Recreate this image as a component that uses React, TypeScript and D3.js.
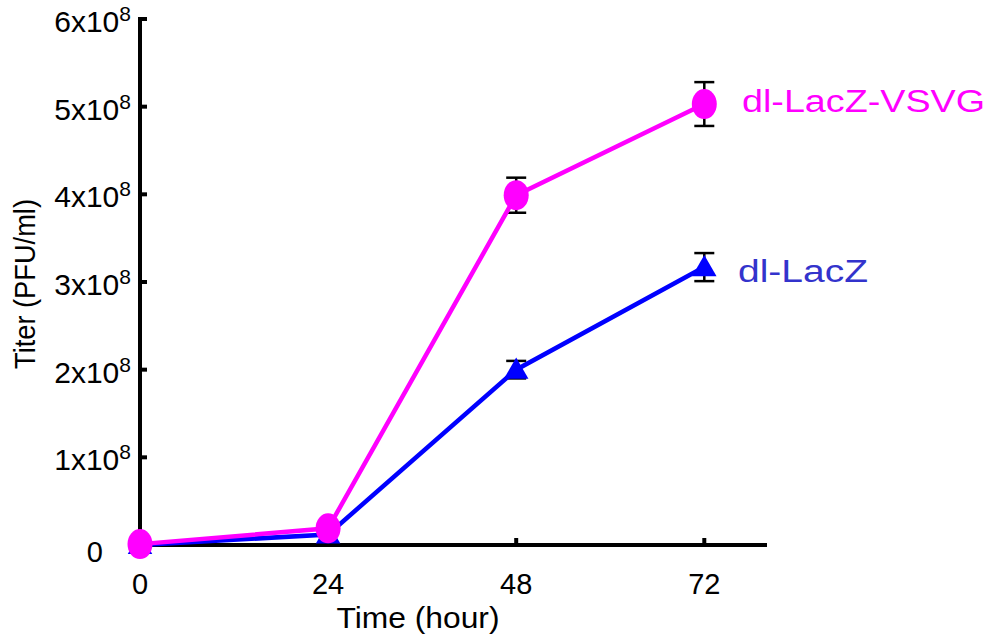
import * as d3 from "d3";

const hours = [0, 24, 48, 72];
const vsvgTiter = [0.01e8, 0.19e8, 3.99e8, 5.03e8];
const vsvgErr = [0, 0, 0.2e8, 0.25e8];
const lacZTiter = [0, 0.12e8, 2.0e8, 3.17e8];
const lacZErr = [0, 0, 0.1e8, 0.16e8];
const yTicks = [0, 1, 2, 3, 4, 5, 6];
const xTicks = [0, 24, 48, 72];

const W = 992;
const H = 641;
const font = "'Liberation Sans', Arial, sans-serif";

const x = d3.scaleLinear().domain([0, 80]).range([140, 767]);
const y = d3.scaleLinear().domain([0, 6e8]).range([545, 19]);

const line = d3
  .line<number>()
  .x((_, i) => x(hours[i]))
  .y((d) => y(d));

const tri = d3.symbol().type(d3.symbolTriangle).size(260);

const ErrorBars = ({ vals, errs }: { vals: number[]; errs: number[] }) => (
  <g stroke="#000" strokeWidth={2.5}>
    {vals.map((v, i) =>
      errs[i] > 0 ? (
        <g key={i}>
          <line x1={x(hours[i])} x2={x(hours[i])} y1={y(v + errs[i])} y2={y(v - errs[i])} />
          <line x1={x(hours[i]) - 10} x2={x(hours[i]) + 10} y1={y(v + errs[i])} y2={y(v + errs[i])} />
          <line x1={x(hours[i]) - 10} x2={x(hours[i]) + 10} y1={y(v - errs[i])} y2={y(v - errs[i])} />
        </g>
      ) : null
    )}
  </g>
);

export default function App() {
  return (
    <svg
      width={W}
      height={H}
      viewBox={`0 0 ${W} ${H}`}
      style={{ position: "absolute", left: 0, top: 0, background: "#fff" }}
      fontFamily={font}
    >
      {/* axes */}
      <g stroke="#000" strokeWidth={4}>
        <line x1={x(0)} x2={x(0)} y1={y(6e8) - 2} y2={y(0) + 2} />
        <line x1={x(0) - 2} x2={x(80)} y1={y(0)} y2={y(0)} />
        {yTicks.map((t) => (
          <line key={t} x1={x(0)} x2={x(0) + 7} y1={y(t * 1e8)} y2={y(t * 1e8)} />
        ))}
        {xTicks.map((t) => (
          <line key={t} x1={x(t)} x2={x(t)} y1={y(0)} y2={y(0) - 7} />
        ))}
      </g>
      {yTicks.map((t) =>
        t === 0 ? (
          <text key={t} x={103} y={y(0) + 17} textAnchor="end" fontSize={29}>
            0
          </text>
        ) : (
          <text key={t} x={131} y={y(t * 1e8) + 13} textAnchor="end" fontSize={30}>
            {t}x10
            <tspan fontSize={21} dy={-11}>
              8
            </tspan>
          </text>
        )
      )}
      {xTicks.map((t) => (
        <text key={t} x={x(t)} y={594} textAnchor="middle" fontSize={29}>
          {t}
        </text>
      ))}
      <text x={418} y={628} textAnchor="middle" fontSize={29} textLength={163} lengthAdjust="spacingAndGlyphs">
        Time (hour)
      </text>
      <text
        transform={`translate(35,284) rotate(-90)`}
        textAnchor="middle"
        fontSize={29}
        textLength={170}
        lengthAdjust="spacingAndGlyphs"
      >
        Titer (PFU/ml)
      </text>

      <ErrorBars vals={lacZTiter} errs={lacZErr} />
      <ErrorBars vals={vsvgTiter} errs={vsvgErr} />

      <path d={line(lacZTiter) ?? ""} fill="none" stroke="#0000ff" strokeWidth={4.5} />
      {lacZTiter.map((v, i) => (
        <path key={i} d={tri() ?? ""} transform={`translate(${x(hours[i])},${y(v) + 2})`} fill="#0000ff" />
      ))}
      <path d={line(vsvgTiter) ?? ""} fill="none" stroke="#ff00ff" strokeWidth={4.5} />
      {vsvgTiter.map((v, i) => (
        <ellipse key={i} cx={x(hours[i])} cy={y(v)} rx={12.5} ry={15} fill="#ff00ff" />
      ))}

      <text x={742} y={112} fontSize={31} fill="#ff00ff" textLength={243} lengthAdjust="spacingAndGlyphs">
        dl-LacZ-VSVG
      </text>
      <text x={738} y={282} fontSize={31} fill="#3333cc" textLength={130} lengthAdjust="spacingAndGlyphs">
        dl-LacZ
      </text>
    </svg>
  );
}
